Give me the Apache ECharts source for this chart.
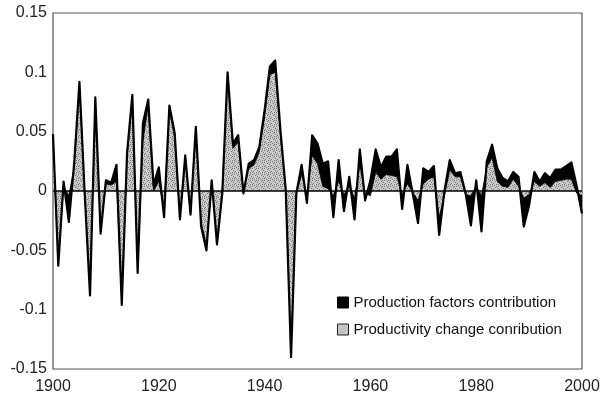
<!DOCTYPE html>
<html>
<head>
<meta charset="utf-8">
<script src="https://cdn.jsdelivr.net/npm/echarts@6/dist/echarts.min.js"></script>
<style>
  html, body { margin: 0; padding: 0; background: #fff; }
  #chart { width: 605px; height: 400px; }
</style>
</head>
<body>
<div id="chart"></div>
<script>
// Annual output growth split into productivity change and production factors
const years = [];
for (let y = 1900; y <= 2000; y++) years.push(String(y));

// Productivity change contribution, 1900-2000
const productivity = [
  0.044, -0.060, 0.004, -0.004, 0.020, 0.088, -0.001, -0.084, 0.076, -0.033,
  0.006, 0.005, 0.008, -0.092, 0.029, 0.078, -0.066, 0.042, 0.072, 0.000,
  0.008, -0.016, 0.068, 0.045, -0.021, 0.027, -0.017, 0.051, -0.026, -0.046,
  0.006, -0.041, 0.000, 0.097, 0.036, 0.041, 0.000, 0.019, 0.022, 0.033,
  0.063, 0.098, 0.100, 0.047, 0.000, -0.137, -0.003, 0.014, -0.003, 0.030,
  0.023, 0.004, 0.002, -0.004, 0.008, -0.003, 0.004, -0.006, 0.022, -0.002,
  -0.004, 0.016, 0.010, 0.014, 0.013, 0.012, -0.003, 0.006, -0.001, -0.008,
  0.006, 0.010, 0.012, -0.022, -0.004, 0.018, 0.012, 0.012, -0.003, -0.004,
  0.004, -0.004, 0.020, 0.028, 0.008, 0.004, 0.003, 0.010, 0.004, -0.006,
  -0.003, 0.008, 0.004, 0.007, 0.003, 0.008, 0.009, 0.010, 0.010, -0.002,
  -0.004
];

// Production factors contribution, 1900-2000
const factors = [
  0.004, -0.003, 0.004, -0.022, 0.003, 0.004, -0.002, -0.004, 0.003, -0.003,
  0.003, 0.002, 0.014, -0.004, 0.003, 0.003, -0.003, 0.015, 0.005, 0.005,
  0.012, -0.006, 0.004, 0.004, -0.003, 0.003, -0.003, 0.003, -0.004, -0.004,
  0.003, -0.004, -0.002, 0.003, 0.004, 0.006, -0.002, 0.004, 0.004, 0.004,
  0.005, 0.007, 0.010, 0.004, 0.001, -0.003, 0.001, 0.008, -0.007, 0.017,
  0.017, 0.019, 0.023, -0.018, 0.018, -0.014, 0.008, -0.018, 0.013, -0.006,
  0.013, 0.019, 0.010, 0.015, 0.016, 0.023, -0.012, 0.016, -0.001, -0.019,
  0.013, 0.006, 0.009, -0.015, 0.004, 0.008, 0.003, 0.004, 0.001, -0.025,
  0.005, -0.030, 0.005, 0.011, 0.011, 0.007, 0.005, 0.006, 0.008, -0.024,
  -0.009, 0.008, 0.004, 0.008, 0.008, 0.010, 0.009, 0.011, 0.014, 0.006,
  -0.015
];

const seriesNames = ['Production factors contribution', 'Productivity change conribution'];
const yTicks = ['-0.15', '-0.1', '-0.05', '0', '0.05', '0.1', '0.15'];
const xTicks = ['1900', '1920', '1940', '1960', '1980', '2000'];

// Stippled grey fill for the productivity area
function stipple() {
  const c = document.createElement('canvas');
  c.width = 6; c.height = 6;
  const g = c.getContext('2d');
  g.fillStyle = '#cbcbcb';
  g.fillRect(0, 0, 6, 6);
  g.fillStyle = '#737373';
  [[0, 0], [3, 1], [1, 3], [4, 4], [5, 2], [2, 5], [4, 0], [0, 4]].forEach(([x, y]) => g.fillRect(x, y, 1, 1));
  return c;
}

const font = '"Liberation Sans", Arial, Helvetica, sans-serif';
const chart = echarts.init(document.getElementById('chart'), null, { renderer: 'canvas' });

chart.setOption({
  animation: false,
  backgroundColor: '#fff',
  grid: {
    left: 53, right: 23, top: 13, bottom: 31,
    show: true, borderColor: '#555', borderWidth: 1.2, backgroundColor: 'transparent'
  },
  legend: {
    orient: 'vertical',
    left: 332, top: 290,
    itemWidth: 11, itemHeight: 11, itemGap: 12,
    textStyle: { fontFamily: font, fontSize: 15, color: '#111' },
    data: [
      { name: seriesNames[0], icon: 'rect', itemStyle: { color: '#000', borderColor: '#000', borderWidth: 1 } },
      { name: seriesNames[1], icon: 'rect', itemStyle: { color: '#c4c4c4', borderColor: '#222', borderWidth: 1 } }
    ]
  },
  xAxis: {
    type: 'category', data: years, boundaryGap: false,
    axisLine: { show: false }, axisTick: { show: false }, splitLine: { show: false },
    axisLabel: {
      margin: 10, fontFamily: font, fontSize: 16, color: '#222',
      interval: (i, v) => xTicks.includes(v),
      showMaxLabel: true, showMinLabel: true
    }
  },
  yAxis: {
    type: 'value', min: -0.15, max: 0.15, interval: 0.05,
    axisLine: { show: false }, axisTick: { show: false }, splitLine: { show: false },
    axisLabel: {
      margin: 6, fontFamily: font, fontSize: 16, color: '#222',
      formatter: v => yTicks[Math.round((v + 0.15) / 0.05)]
    }
  },
  series: [
    {
      name: seriesNames[1],
      type: 'line',
      stack: 'growth',
      stackStrategy: 'all',
      data: productivity,
      showSymbol: false,
      lineStyle: { color: '#222', width: 1 },
      itemStyle: { color: '#c4c4c4' },
      areaStyle: { color: { image: stipple(), repeat: 'repeat' }, opacity: 1 },
      z: 2,
      markLine: {
        silent: true, symbol: 'none', label: { show: false },
        lineStyle: { color: '#000', width: 1.5, type: 'solid' },
        data: [{ yAxis: 0 }]
      }
    },
    {
      name: seriesNames[0],
      type: 'line',
      stack: 'growth',
      stackStrategy: 'all',
      data: factors,
      showSymbol: false,
      lineStyle: { color: '#000', width: 2.2, join: 'round' },
      itemStyle: { color: '#000' },
      areaStyle: { color: '#000', opacity: 1 },
      z: 3
    }
  ]
});
</script>
</body>
</html>
